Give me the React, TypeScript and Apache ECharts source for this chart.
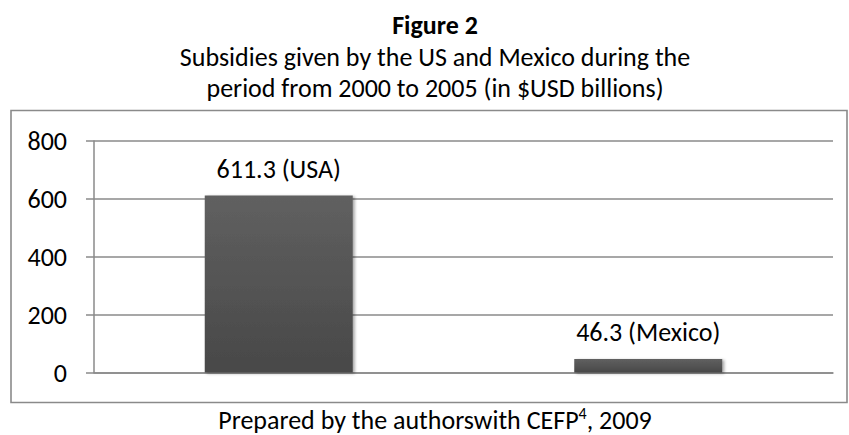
import React, { useEffect, useRef } from "react";
import * as echarts from "echarts";

const categories = ["USA", "Mexico"];
const values = [611.3, 46.3];
const yTicks = [0, 200, 400, 600, 800];
const titleText = "Figure 2";
const subtitleLines = [
  "Subsidies given by the US and Mexico during the",
  "period from 2000 to 2005 (in $USD billions)",
];
const captionParts = ["Prepared by the authorswith CEFP", "4", ", 2009"];

const FONT = "Carlito, Lato, sans-serif";
const FS = 26;

export default function App() {
  const ref = useRef<HTMLDivElement>(null);
  useEffect(() => {
    if (!ref.current) return;
    const chart = echarts.init(ref.current, null, { renderer: "svg" });
    const option: any = {
      animation: false,
      backgroundColor: "#ffffff",
      textStyle: { fontFamily: FONT },
      graphic: [
        {
          type: "rect",
          shape: { x: 11, y: 110.5, width: 836, height: 292 },
          style: { fill: "none", stroke: "#8a8a8a", lineWidth: 1.6 },
          z: 0,
        },
        {
          type: "text",
          x: 435,
          y: 25,
          style: {
            text: titleText,
            fontFamily: FONT,
            fontSize: FS,
            fontWeight: "bold",
            fill: "#000",
            align: "center",
            verticalAlign: "middle",
          },
        },
        ...subtitleLines.map((t, i) => ({
          type: "text",
          x: 435,
          y: 57 + i * 31,
          style: {
            text: t,
            fontFamily: FONT,
            fontSize: FS,
            fill: "#000",
            align: "center",
            verticalAlign: "middle",
          },
        })),
        {
          type: "text",
          x: 435,
          y: 420,
          style: {
            text:
              "{a|" + captionParts[0] + "}{s|" + captionParts[1] + "}{a|" + captionParts[2] + "}",
            align: "center",
            verticalAlign: "middle",
            rich: {
              a: { fontFamily: FONT, fontSize: FS, fill: "#000", lineHeight: 30 },
              s: { fontFamily: FONT, fontSize: 16, fill: "#000", verticalAlign: "top", lineHeight: 30 },
            },
          },
        },
      ],
      grid: { left: 94, right: 16, top: 141, bottom: 62.5, containLabel: false },
      xAxis: {
        type: "category",
        data: categories,
        axisLine: { show: true, lineStyle: { color: "#8a8a8a", width: 1.5 } },
        axisTick: { show: false },
        axisLabel: { show: false },
      },
      yAxis: {
        type: "value",
        min: 0,
        max: 800,
        interval: 200,
        axisLine: { show: true, lineStyle: { color: "#8a8a8a", width: 1.5 } },
        axisTick: { show: true, inside: false, length: 8, lineStyle: { color: "#8a8a8a", width: 1.5 } },
        splitLine: { show: true, lineStyle: { color: "#8a8a8a", width: 1.5 } },
        axisLabel: {
          margin: 27,
          color: "#000",
          fontFamily: FONT,
          fontSize: FS,
          formatter: (v: number) => (yTicks.includes(v) ? String(v) : ""),
        },
      },
      series: [
        {
          type: "bar",
          data: values,
          barWidth: 148,
          itemStyle: {
            color: new echarts.graphic.LinearGradient(0, 0, 0, 1, [
              { offset: 0, color: "#606060" },
              { offset: 1, color: "#484848" },
            ]),
            shadowColor: "rgba(0,0,0,0.35)",
            shadowBlur: 3,
            shadowOffsetX: 2,
            shadowOffsetY: 1,
          },
          label: {
            show: true,
            position: "top",
            distance: 13,
            color: "#000",
            fontFamily: FONT,
            fontSize: FS,
            lineHeight: 28,
            formatter: (p: any) => `${p.value} (${p.name})`,
          },
        },
      ],
    };
    chart.setOption(option);
    return () => chart.dispose();
  }, []);
  return (
    <div
      ref={ref}
      style={{ position: "fixed", left: 0, top: 0, width: 849, height: 435 }}
    />
  );
}
